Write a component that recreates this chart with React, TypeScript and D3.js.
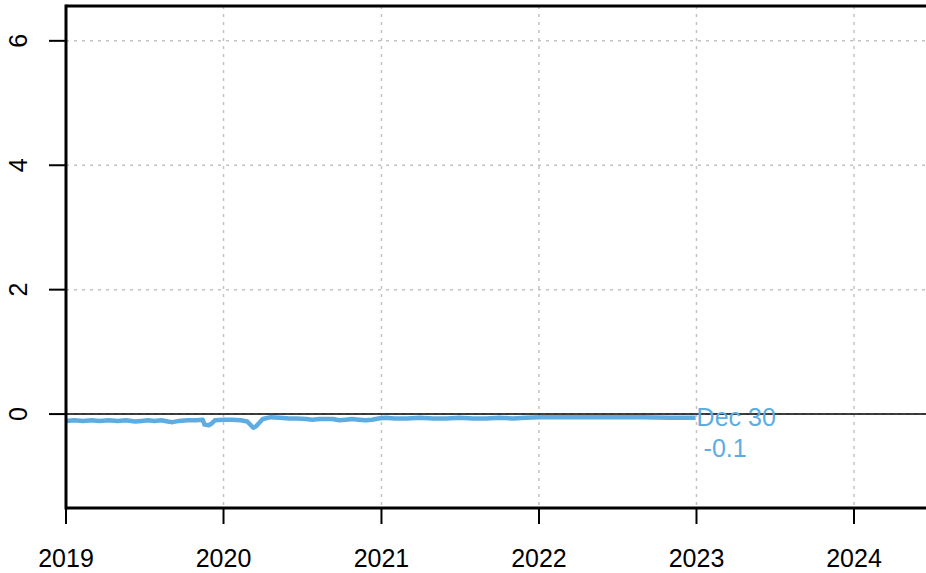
import React from "react";
import * as d3 from "d3";

const dates: string[] = [
  "2019-01-01","2019-01-20","2019-02-10","2019-03-01","2019-03-20","2019-04-10","2019-05-01","2019-05-20",
  "2019-06-10","2019-06-25","2019-07-10","2019-07-25","2019-08-10","2019-08-25","2019-09-05","2019-09-20",
  "2019-10-10","2019-10-30","2019-11-14","2019-11-18","2019-11-28","2019-12-05","2019-12-12",
  "2020-01-01","2020-01-20","2020-02-10","2020-02-25","2020-03-10","2020-03-16","2020-04-01","2020-04-20",
  "2020-05-10","2020-06-01","2020-06-20","2020-07-10","2020-07-25","2020-08-10","2020-08-25","2020-09-10",
  "2020-09-25","2020-10-10","2020-10-25","2020-11-10","2020-11-25","2020-12-10","2020-12-25",
  "2021-01-10","2021-02-01","2021-03-01","2021-04-01","2021-05-01","2021-06-01","2021-07-01","2021-08-01",
  "2021-09-01","2021-10-01","2021-11-01","2021-12-01",
  "2022-01-01","2022-03-01","2022-05-01","2022-07-01","2022-09-01","2022-11-01","2022-12-30"
];
const values: number[] = [
  -0.11,-0.10,-0.11,-0.10,-0.11,-0.10,-0.11,-0.10,
  -0.12,-0.11,-0.10,-0.11,-0.10,-0.12,-0.13,-0.11,
  -0.10,-0.10,-0.09,-0.17,-0.18,-0.15,-0.10,
  -0.09,-0.09,-0.10,-0.12,-0.22,-0.20,-0.08,-0.05,
  -0.06,-0.07,-0.07,-0.08,-0.09,-0.08,-0.08,-0.08,
  -0.10,-0.09,-0.08,-0.09,-0.10,-0.09,-0.07,
  -0.06,-0.07,-0.07,-0.06,-0.07,-0.07,-0.06,-0.07,
  -0.07,-0.06,-0.07,-0.06,
  -0.05,-0.05,-0.05,-0.05,-0.05,-0.06,-0.06
];
const xTickYears: number[] = [2019, 2020, 2021, 2022, 2023, 2024];
const yTicks: number[] = [0, 2, 4, 6];
const lastLabel: string = "Dec 30";
const lastValueLabel: string = "-0.1";

const W = 926, H = 573;
const LEFT = 66, TOP = 6, BOTTOM = 508, RIGHT_END = 1000;
const BLUE = "#5DADE2";
const FONT = "'Liberation Sans', Arial, Helvetica, sans-serif";

export default function App() {
  const parse = d3.timeParse("%Y-%m-%d");
  const data = dates.map((d, i) => ({ date: parse(d) as Date, value: values[i] }));
  const x = d3.scaleTime()
    .domain([new Date(2019, 0, 1), new Date(2024, 0, 1)])
    .range([LEFT, 854]);
  const y = d3.scaleLinear().domain([-1.51, 6.56]).range([BOTTOM, TOP]);
  const line = d3.line<{ date: Date; value: number }>()
    .x((d) => x(d.date))
    .y((d) => y(d.value))
    .curve(d3.curveLinear);
  const last = data[data.length - 1];
  const lx = x(last.date);

  return (
    <svg width={W} height={H} style={{ position: "fixed", left: 0, top: 0, background: "#fff" }}
      fontFamily={FONT}>
      <rect x={0} y={0} width={W} height={H} fill="#fff" />
      {/* grid */}
      {xTickYears.map((yr) => (
        <line key={"gx" + yr} x1={x(new Date(yr, 0, 1))} x2={x(new Date(yr, 0, 1))} y1={TOP} y2={BOTTOM}
          stroke="#c4c4c4" strokeWidth={1.5} strokeDasharray="3,5" />
      ))}
      {yTicks.map((t) => (
        <line key={"gy" + t} x1={LEFT} x2={RIGHT_END} y1={y(t)} y2={y(t)}
          stroke="#c4c4c4" strokeWidth={1.5} strokeDasharray="3,5" />
      ))}
      {/* zero line */}
      <line x1={LEFT} x2={RIGHT_END} y1={y(0)} y2={y(0)} stroke="#000" strokeWidth={1.6} />
      {/* series */}
      <path d={line(data) || ""} fill="none" stroke={BLUE} strokeWidth={4.5} strokeLinejoin="round" />
      {/* label */}
      <text x={lx + 1} y={y(0) + 12} fontSize={25} fill={BLUE}>{lastLabel}</text>
      <text x={lx + 8} y={y(0) + 43} fontSize={25} fill={BLUE}>{lastValueLabel}</text>
      {/* frame */}
      <line x1={LEFT} x2={RIGHT_END} y1={TOP} y2={TOP} stroke="#000" strokeWidth={3} />
      <line x1={LEFT} x2={RIGHT_END} y1={BOTTOM} y2={BOTTOM} stroke="#000" strokeWidth={3} />
      <line x1={LEFT} x2={LEFT} y1={TOP - 1.5} y2={BOTTOM + 1.5} stroke="#000" strokeWidth={3} />
      {/* x axis */}
      {xTickYears.map((yr) => {
        const px = x(new Date(yr, 0, 1));
        return (
          <g key={"xt" + yr}>
            <line x1={px} x2={px} y1={BOTTOM} y2={BOTTOM + 16} stroke="#000" strokeWidth={2} />
            <text x={px} y={567} fontSize={25} textAnchor="middle" fill="#000">{yr}</text>
          </g>
        );
      })}
      {/* y axis */}
      {yTicks.map((t) => {
        const py = y(t);
        return (
          <g key={"yt" + t}>
            <line x1={LEFT - 17} x2={LEFT} y1={py} y2={py} stroke="#000" strokeWidth={2} />
            <text transform={`translate(27,${py}) rotate(-90)`} fontSize={25} textAnchor="middle" fill="#000">{t}</text>
          </g>
        );
      })}
    </svg>
  );
}
